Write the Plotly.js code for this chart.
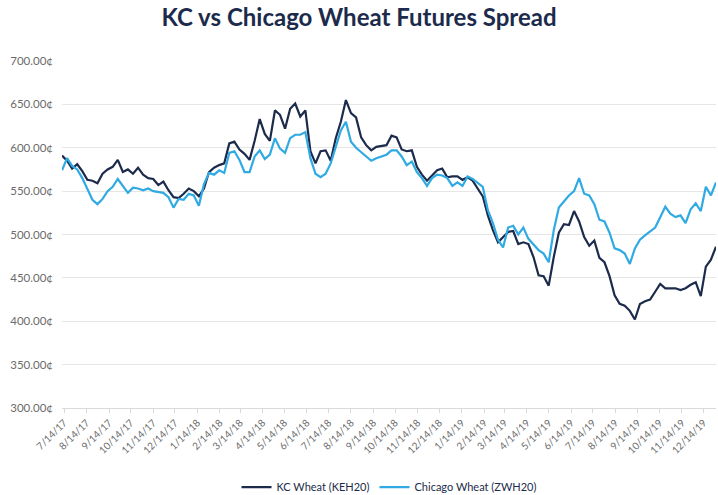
<!DOCTYPE html>
<html>
<head>
<meta charset="utf-8">
<script src="https://cdn.plot.ly/plotly-3.0.1.min.js"></script>
<style>html,body{margin:0;padding:0;background:#fff;}#chart{width:718px;height:495px;}</style>
</head>
<body>
<div id="chart"></div>
<script>
// Weekly observations, first one on 2017-07-11
const startDate = '2017-07-11';
const kcWheat = [
591,585,576,581,573,563,562,559,570,575,
578,586,572,575,570,577,569,565,564,557,
561,551,543,542,547,553,550,544,553,572,
577,580,582,605,607,598,593,586,608,633,
616,608,643,638,622,645,651,636,643,596,
582,596,597,585,611,630,655,640,635,612,
603,597,601,602,603,614,612,598,596,597,
578,569,562,568,574,576,566,567,567,563,
566,562,553,544,522,505,491,497,503,504,
489,491,489,474,453,452,441,474,502,512,
511,527,515,497,487,493,473,468,452,430,
420,418,412,402,420,423,425,434,443,438,
438,438,436,438,442,445,429,463,471,486
];
const chicagoWheat = [
574,588,579,575,565,553,540,535,541,550,
555,564,556,548,554,553,551,553,550,549,
548,543,531,541,540,547,545,533,558,571,
569,574,571,594,596,586,572,572,590,597,
587,592,611,599,594,611,615,615,618,588,
570,566,570,582,602,620,630,607,600,595,
590,585,588,590,592,597,597,590,580,584,
572,565,556,565,569,568,565,556,560,556,
567,564,560,555,528,513,494,485,508,510,
500,508,495,488,482,478,468,505,531,538,
545,550,565,547,545,535,517,515,502,484,
482,478,466,484,494,499,504,508,520,532,
524,520,522,513,529,536,527,555,545,560
];
const yTickVals = [300, 350, 400, 450, 500, 550, 600, 650, 700];
const yTickText = ['300.00\u00a2','350.00\u00a2','400.00\u00a2','450.00\u00a2','500.00\u00a2',
                   '550.00\u00a2','600.00\u00a2','650.00\u00a2','700.00\u00a2'];
const tickVals = [
'2017-07-14','2017-08-14','2017-09-14','2017-10-14','2017-11-14','2017-12-14',
'2018-01-14','2018-02-14','2018-03-14','2018-04-14','2018-05-14','2018-06-14',
'2018-07-14','2018-08-14','2018-09-14','2018-10-14','2018-11-14','2018-12-14',
'2019-01-14','2019-02-14','2019-03-14','2019-04-14','2019-05-14','2019-06-14',
'2019-07-14','2019-08-14','2019-09-14','2019-10-14','2019-11-14','2019-12-14'
];
const tickText = [
'7/14/17','8/14/17','9/14/17','10/14/17','11/14/17','12/14/17',
'1/14/18','2/14/18','3/14/18','4/14/18','5/14/18','6/14/18',
'7/14/18','8/14/18','9/14/18','10/14/18','11/14/18','12/14/18',
'1/14/19','2/14/19','3/14/19','4/14/19','5/14/19','6/14/19',
'7/14/19','8/14/19','9/14/19','10/14/19','11/14/19','12/14/19'
];

function weeklyDates(start, n) {
  const out = [];
  const d0 = new Date(start + 'T00:00:00Z');
  for (let i = 0; i < n; i++) {
    const d = new Date(d0.getTime() + i * 7 * 86400000);
    out.push(d.toISOString().slice(0, 10));
  }
  return out;
}
const dates = weeklyDates(startDate, kcWheat.length);

const traces = [
  {x: dates, y: kcWheat, type: 'scatter', mode: 'lines', name: 'KC Wheat (KEH20)',
   line: {color: '#1c2b4b', width: 2.2}},
  {x: dates, y: chicagoWheat, type: 'scatter', mode: 'lines', name: 'Chicago Wheat (ZWH20)',
   line: {color: '#2faae2', width: 2.2}}
];

const layout = {
  width: 718, height: 495,
  margin: {l: 62, r: 2, t: 61, b: 87},
  paper_bgcolor: '#fff', plot_bgcolor: '#fff',
  font: {family: 'Lato, sans-serif', color: '#6b6b6b'},
  title: {text: 'KC vs Chicago Wheat Futures Spread', x: 0.5, xanchor: 'center', y: 0.965, yanchor: 'middle',
          font: {family: 'Lato, sans-serif', size: 24, color: '#1c2b4b', weight: 'bold'}},
  xaxis: {type: 'date', range: [dates[0], dates[dates.length - 1]],
          tickmode: 'array', tickvals: tickVals, ticktext: tickText, tickangle: -45,
          tickfont: {size: 10, color: '#6b6b6b'},
          showgrid: false, showline: true, linecolor: '#d9d9d9', linewidth: 1,
          ticks: 'outside', ticklen: 4, tickcolor: '#d9d9d9', zeroline: false},
  yaxis: {range: [300, 700], tickmode: 'array', tickvals: yTickVals, ticktext: yTickText,
          tickfont: {size: 11.5, color: '#6b6b6b'},
          showgrid: true, gridcolor: '#e6e6e6', gridwidth: 1, zeroline: false, ticks: '',
          showline: false, ticklabelstandoff: 8},
  showlegend: true,
  legend: {orientation: 'h', x: 0.5, xanchor: 'center', yref: 'container', y: 0.016, yanchor: 'middle',
           font: {size: 11, color: '#1c2b4b'}, itemwidth: 30, tracegroupgap: 0},
};

Plotly.newPlot('chart', traces, layout, {staticPlot: true, displayModeBar: false});
</script>
</body>
</html>
